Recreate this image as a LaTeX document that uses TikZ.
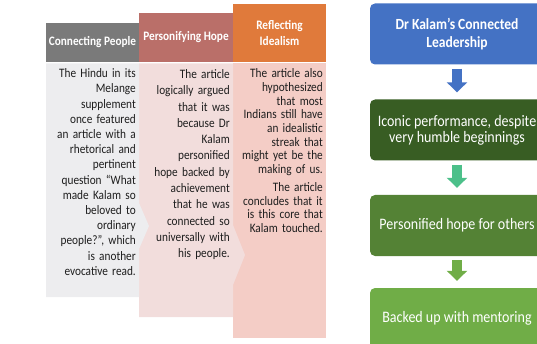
\documentclass[tikz,border=0pt]{standalone}
\usepackage{fontspec}
\setmainfont{Carlito}[FakeStretch=0.875]
\usepackage{xcolor}
\usepackage{tikz}
\usetikzlibrary{arrows.meta}
\definecolor{hdrPeopleCol}{HTML}{7A7A7A}
\definecolor{hdrHopeCol}{HTML}{BA6F69}
\definecolor{hdrIdealCol}{HTML}{E07A3B}
\definecolor{bodyPeopleCol}{HTML}{EDEDEF}
\definecolor{bodyHopeCol}{HTML}{F2DDDC}
\definecolor{bodyIdealCol}{HTML}{F4CDC6}
\definecolor{inkCol}{HTML}{1E1E1E}
\definecolor{leadCol}{HTML}{4472C4}
\definecolor{iconicCol}{HTML}{385D23}
\definecolor{hopeCol}{HTML}{548235}
\definecolor{mentorCol}{HTML}{70AD47}
\definecolor{arrMint}{HTML}{4CC08A}
\tikzset{
head/.style = {rectangle, fill=#1, text=white, align=center,
               inner sep=0pt, outer sep=0pt,
               font=\fontsize{12.9}{15.5}\selectfont\bfseries}
}
\tikzset{
para/.style = {anchor=base east, align=right, inner sep=0pt,
               text width=92pt, text=inkCol,
               font=\fontsize{12.9}{#1}\selectfont},
para/.default = 14.6 % line distance
}
\tikzset{
flowbox/.style = {rectangle, rounded corners=5pt, fill=#1, text=white,
                  minimum width=174pt, minimum height=61pt,
                  inner sep=0pt, align=center},
flowbox/.default = leadCol
}
\tikzset{
blockarrow/.style = {draw=#1, line width=10pt,
                     -{Triangle[width=20pt,length=10pt]},
                     shorten <=4pt, shorten >=7pt}
}

\begin{document}
\begin{tikzpicture}[x=1pt, y=-1pt]
    \useasboundingbox (0,0) rectangle (537,344);
    \clip (0,0) rectangle (537,344);

    % the three columns
    \fill[bodyIdealCol] (233,63.5) rectangle (326,338);
    \fill[bodyHopeCol] (139,63.5) -- (233,63.5) -- (233,225) -- (245,255)
        -- (233,285) -- (233,317) -- (139,317) -- cycle;
    \fill[bodyPeopleCol] (46,63.5) -- (139,63.5) -- (139,203) -- (149,226)
        -- (139,249) -- (139,297) -- (46,297) -- cycle;

    \node[head=hdrPeopleCol, minimum width=93pt, minimum height=39pt] (hdrPeople) at (92.5,42.5) {Connecting People};
    \node[head=hdrHopeCol, minimum width=94pt, minimum height=49pt] (hdrHope) at (186,37.5) {Personifying Hope};
    \node[head=hdrIdealCol, minimum width=93pt, minimum height=58pt] (hdrIdeal) at (279.5,33) {Reflecting\\Idealism};

    \node[para=15.2] (txtPeople) at (136,77.7) {The Hindu in its\\Melange\\supplement\\once featured\\an article with a\\rhetorical and\\pertinent\\question “What\\made Kalam so\\beloved to\\ordinary\\people?”, which\\is another\\evocative read.};
    \node[para=16.3] (txtHope) at (230,78.5) {The article\\logically argued\\that it was\\because Dr\\Kalam\\personified\\hope backed by\\achievement\\that he was\\connected so\\universally with\\his people.};
    \node[para=13.7] (txtIdeal) at (323,77.7) {The article also\\hypothesized\\that most\\Indians still have\\an idealistic\\streak that\\might yet be the\\making of us.\\[4.3pt]The article\\concludes that it\\is this core that\\Kalam touched.};

    % the flow on the right
    \node[flowbox=leadCol, font=\fontsize{15.5}{18}\selectfont\bfseries] (boxLead) at (457,34) {Dr Kalam’s Connected\\Leadership};
    \node[flowbox=iconicCol, font=\fontsize{16}{16}\selectfont] (boxIconic) at (457,130) {Iconic performance, despite\\very humble beginnings};
    \node[flowbox=hopeCol, font=\fontsize{16}{16}\selectfont] (boxHope) at (457,225.5) {Personified hope for others};
    \node[flowbox=mentorCol, font=\fontsize{16}{16}\selectfont] (boxMentor) at (457,318.5) {Backed up with mentoring};

    \draw[blockarrow=leadCol] (boxLead) -- (boxIconic);
    \draw[blockarrow=arrMint] (boxIconic) -- (boxHope);
    \draw[blockarrow=mentorCol] (boxHope) -- (boxMentor);
\end{tikzpicture}
\end{document}
